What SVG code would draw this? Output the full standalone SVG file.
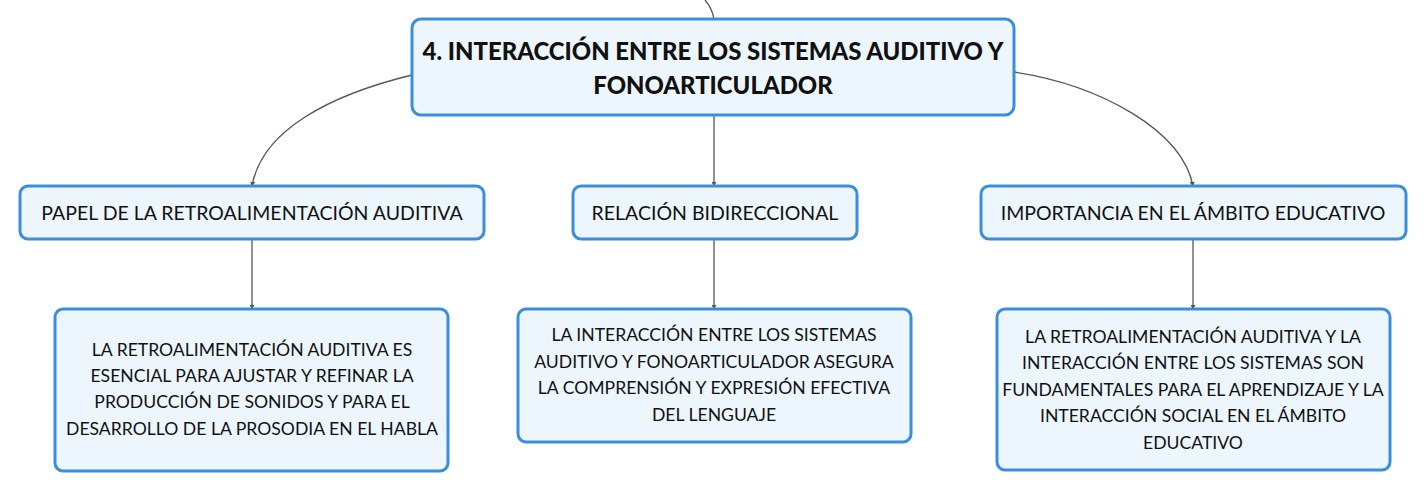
<svg xmlns="http://www.w3.org/2000/svg" width="1428" height="492" viewBox="0 0 1428 492">
<style>
.box{fill:#eef6fd;stroke:#3a8edb;stroke-width:3}
.t{font-family:Lato,"Noto Sans",sans-serif;fill:#111;text-anchor:middle}
.title{font-size:23.9px;font-weight:900}
.sub{font-size:19.5px}
.leaf{font-size:17.6px}
.c{fill:none;stroke:#555;stroke-width:1.3}
</style>
<defs>
<marker id="a" viewBox="0 0 6 6" refX="5" refY="3" markerWidth="5" markerHeight="5" orient="auto" markerUnits="userSpaceOnUse">
<path d="M0,0L6,3L0,6z" fill="#555"/>
</marker>
</defs>
<rect width="1428" height="492" fill="#fff"/>
<g id="connectors">
<path class="c" d="M705,0 Q712,8 714,19"/>
<path class="c" d="M412,75 C330,95 262,130 252,186" marker-end="url(#a)"/>
<path class="c" d="M714,115 L714,186" marker-end="url(#a)"/>
<path class="c" d="M1014,72 C1100,85 1182,130 1193,186" marker-end="url(#a)"/>
<path class="c" d="M252,239 L252,309" marker-end="url(#a)"/>
<path class="c" d="M714,239 L714,309" marker-end="url(#a)"/>
<path class="c" d="M1193,239 L1193,309" marker-end="url(#a)"/>
</g>
<g id="main">
<rect class="box" x="412" y="19" width="602" height="96" rx="9"/>
<text class="t title" x="713" y="60">4. INTERACCIÓN ENTRE LOS SISTEMAS AUDITIVO Y</text>
<text class="t title" x="713" y="94">FONOARTICULADOR</text>
</g>
<g id="papel">
<rect class="box" x="20" y="186" width="464" height="53" rx="8"/>
<text class="t sub" x="252" y="220">PAPEL DE LA RETROALIMENTACIÓN AUDITIVA</text>
</g>
<g id="relacion">
<rect class="box" x="573" y="186" width="284" height="53" rx="8"/>
<text class="t sub" x="715" y="220">RELACIÓN BIDIRECCIONAL</text>
</g>
<g id="importancia">
<rect class="box" x="981" y="186" width="425" height="53" rx="8"/>
<text class="t sub" x="1193" y="220">IMPORTANCIA EN EL ÁMBITO EDUCATIVO</text>
</g>
<g id="leaf1">
<rect class="box" x="55" y="309" width="393" height="162" rx="8"/>
<text class="t leaf" x="252" y="356">LA RETROALIMENTACIÓN AUDITIVA ES</text>
<text class="t leaf" x="252" y="382">ESENCIAL PARA AJUSTAR Y REFINAR LA</text>
<text class="t leaf" x="252" y="408">PRODUCCIÓN DE SONIDOS Y PARA EL</text>
<text class="t leaf" x="252" y="435">DESARROLLO DE LA PROSODIA EN EL HABLA</text>
</g>
<g id="leaf2">
<rect class="box" x="518" y="309" width="393" height="133" rx="8"/>
<text class="t leaf" x="714" y="341">LA INTERACCIÓN ENTRE LOS SISTEMAS</text>
<text class="t leaf" x="714" y="368">AUDITIVO Y FONOARTICULADOR ASEGURA</text>
<text class="t leaf" x="714" y="394">LA COMPRENSIÓN Y EXPRESIÓN EFECTIVA</text>
<text class="t leaf" x="714" y="421">DEL LENGUAJE</text>
</g>
<g id="leaf3">
<rect class="box" x="997" y="309" width="393" height="161" rx="8"/>
<text class="t leaf" x="1193" y="343">LA RETROALIMENTACIÓN AUDITIVA Y LA</text>
<text class="t leaf" x="1193" y="369">INTERACCIÓN ENTRE LOS SISTEMAS SON</text>
<text class="t leaf" x="1193" y="396">FUNDAMENTALES PARA EL APRENDIZAJE Y LA</text>
<text class="t leaf" x="1193" y="422">INTERACCIÓN SOCIAL EN EL ÁMBITO</text>
<text class="t leaf" x="1193" y="449">EDUCATIVO</text>
</g>
</svg>
